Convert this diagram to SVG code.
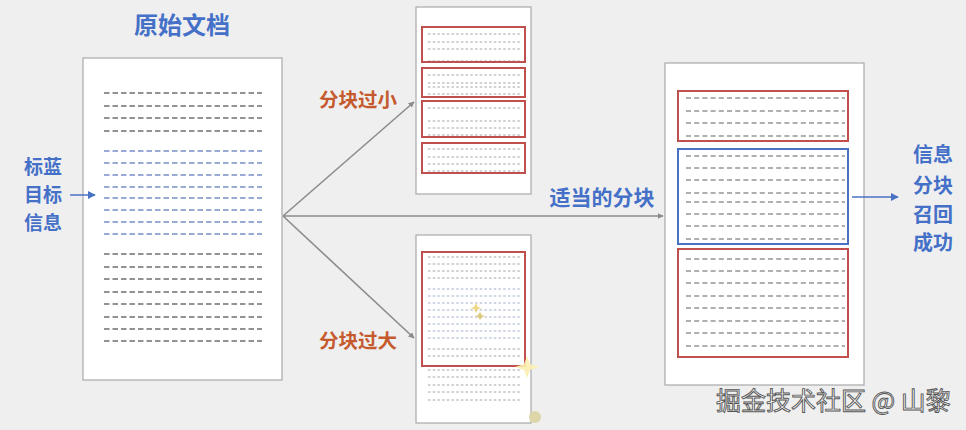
<svg xmlns="http://www.w3.org/2000/svg" width="966" height="430" viewBox="0 0 966 430">
<defs>
<style>
.bg{fill:#efefef}
.doc{fill:#ffffff;stroke:#a9a9a9;stroke-width:1.2}
.dg{fill:none;stroke:#707070;stroke-width:1.3;stroke-dasharray:5.5 3}
.db{fill:none;stroke:#7b8fc8;stroke-width:1.3;stroke-dasharray:5.5 3}
.dr{fill:none;stroke:#606060;stroke-width:1.1;stroke-dasharray:5 3.2}
.ds{fill:none;stroke:#9a9a9a;stroke-width:0.9;stroke-dasharray:2.5 2.2}
.dsb{fill:none;stroke:#9aa6c8;stroke-width:0.9;stroke-dasharray:2.5 2.2}
.rbox{fill:none;stroke:#c0504d;stroke-width:2}
.bbox{fill:none;stroke:#4a72c4;stroke-width:2}
.tb{font-family:"Noto Sans CJK SC","Noto Sans",sans-serif;font-weight:bold;fill:#4470c8}
.to{font-family:"Noto Sans CJK SC","Noto Sans",sans-serif;font-weight:bold;fill:#c55a2e}
.ga{fill:none;stroke:#8c8c8c;stroke-width:1.6}
.ba{fill:none;stroke:#4a72c4;stroke-width:1.5}
.wm{font-family:"Noto Sans CJK SC","Noto Sans",sans-serif;font-size:25px;fill:#f7f7f7;stroke:#555;stroke-width:0.9}
</style>
<marker id="ag" viewBox="0 0 10 10" refX="9" refY="5" markerWidth="6" markerHeight="6" orient="auto" markerUnits="userSpaceOnUse"><path d="M0,0 L10,5 L0,10 z" fill="#8c8c8c"/></marker>
<marker id="ab" viewBox="0 0 10 10" refX="9" refY="5" markerWidth="8" markerHeight="8" orient="auto" markerUnits="userSpaceOnUse"><path d="M0,0 L10,5 L0,10 z" fill="#4a72c4"/></marker>
</defs>
<rect class="bg" x="0" y="0" width="966" height="430"/>

<g id="title">
<text class="tb" x="182" y="34" font-size="24" text-anchor="middle">原始文档</text>
</g>

<g id="label-target">
<text class="tb" x="43" y="174" font-size="19" text-anchor="middle">标蓝</text>
<text class="tb" x="43" y="202" font-size="19" text-anchor="middle">目标</text>
<text class="tb" x="43" y="230" font-size="19" text-anchor="middle">信息</text>
</g>

<g id="doc-original">
<rect class="doc" x="83" y="58" width="199" height="322"/>
<path class="dg" d="M104,93H262M104,106H262M104,118H262M104,131H262"/>
<path class="db" d="M104,151H262M104,163H262M104,175H262M104,187H262M104,198H262M104,210H262M104,222H262M104,234H262"/>
<path class="dg" d="M104,254H262M104,267H262M104,279H262M104,292H262M104,304H262M104,317H262M104,329H262M104,341H262"/>
</g>

<g id="doc-small-chunks">
<rect class="doc" x="416" y="7" width="115" height="187"/>
<path class="ds" d="M428,34H521M428,42H521M428,49H521M428,61H521"/>
<path class="ds" d="M428,75H521M428,83H521M428,87H521M428,94H521"/>
<path class="ds" d="M428,108H521M428,121H521M428,128H521M428,135H521"/>
<path class="ds" d="M428,149H521M428,157H521M428,164H521M428,171H521"/>
<rect class="rbox" x="422" y="27" width="103" height="35"/>
<rect class="rbox" x="422" y="68" width="103" height="29"/>
<rect class="rbox" x="422" y="101" width="103" height="36"/>
<rect class="rbox" x="422" y="143" width="103" height="30"/>
</g>

<g id="doc-large-chunk">
<rect class="doc" x="416" y="235" width="115" height="188"/>
<path class="ds" d="M428,257H521M428,264H521M428,271H521M428,278H521"/>
<path class="dsb" d="M428,289H521M428,296H521M428,303H521M428,310H521M428,317H521M428,324H521M428,331H521M428,338H521"/>
<path class="ds" d="M428,349H521M428,356H521M428,370H521M428,377H521M428,385H521M428,392H521M428,400H521"/>
<rect class="rbox" x="422" y="252" width="103" height="114"/>
<path d="M476,303 l2,4 l4,1 l-4,1 l-2,4 l-2,-4 l-4,-1 l4,-1z" fill="#e8cf6a" opacity="0.8"/>
<path d="M480,312 l2,3 l3,1 l-3,1 l-2,3 l-2,-3 l-3,-1 l3,-1z" fill="#d8c060" opacity="0.8"/>
<path d="M527,356 l3,8 l9,3 l-9,3 l-3,8 l-3,-8 l-9,-3 l9,-3z" fill="#fbf0b0" opacity="0.9"/>
<circle cx="535" cy="417" r="6" fill="#dcd6a8"/>
</g>

<g id="doc-proper-chunks">
<rect class="doc" x="665" y="63" width="199" height="322"/>
<path class="dr" d="M686,98H845M686,111H845M686,123H845M686,136H845"/>
<path class="dr" d="M686,156H845M686,168H845M686,180H845M686,193H845M686,202H845M686,214H845M686,226H845M686,239H845"/>
<path class="dr" d="M686,259H845M686,271H845M686,283H845M686,296H845M686,308H845M686,321H845M686,333H845M686,346H845"/>
<rect class="rbox" x="678" y="91" width="170" height="50"/>
<rect class="bbox" x="678" y="149" width="170" height="95"/>
<rect class="rbox" x="678" y="249" width="170" height="108"/>
</g>

<g id="labels">
<text class="to" x="358" y="107" font-size="19.5" text-anchor="middle">分块过小</text>
<text class="to" x="358" y="348" font-size="19.5" text-anchor="middle">分块过大</text>
<text class="tb" x="602" y="205" font-size="21" text-anchor="middle">适当的分块</text>
</g>

<g id="label-success">
<text class="tb" x="933" y="162" font-size="20" text-anchor="middle">信息</text>
<text class="tb" x="933" y="193" font-size="20" text-anchor="middle">分块</text>
<text class="tb" x="933" y="222" font-size="20" text-anchor="middle">召回</text>
<text class="tb" x="933" y="250" font-size="20" text-anchor="middle">成功</text>
</g>

<g id="connectors">
<line class="ga" x1="283" y1="216" x2="414" y2="102" marker-end="url(#ag)"/>
<line class="ga" x1="283" y1="216" x2="414" y2="338" marker-end="url(#ag)"/>
<line class="ga" x1="283" y1="216" x2="663" y2="216" marker-end="url(#ag)"/>
<line class="ba" x1="70" y1="195" x2="95" y2="195" marker-end="url(#ab)"/>
<line class="ba" x1="852" y1="197" x2="898" y2="197" marker-end="url(#ab)"/>
</g>

<g id="watermark">
<text class="wm" x="716" y="410">掘金技术社区 @ 山黎</text>
</g>
</svg>
